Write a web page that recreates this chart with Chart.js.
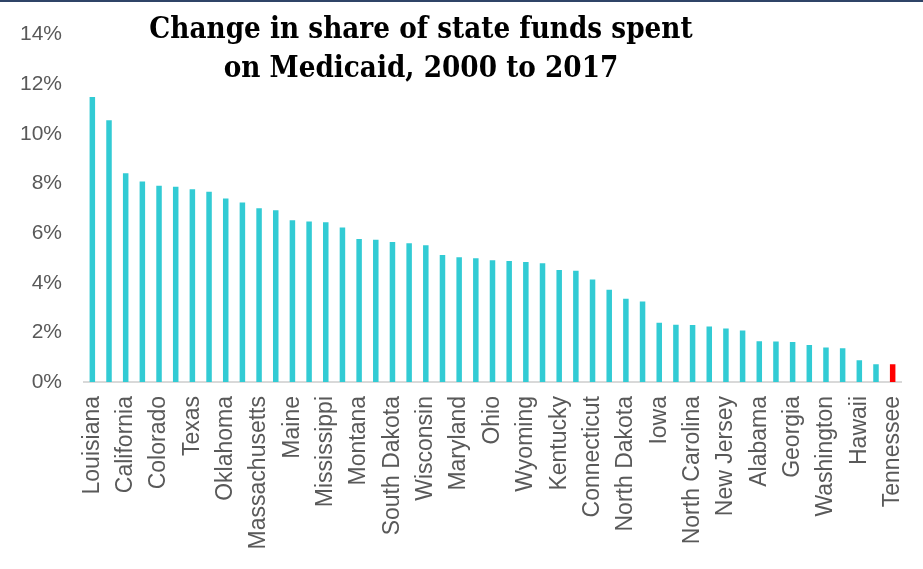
<!DOCTYPE html>
<html lang="en">
<head>
    <meta charset="UTF-8">
    <title>Change in share of state funds spent on Medicaid</title>
    <script src="https://cdn.jsdelivr.net/npm/chart.js"></script>
    <style>
        body {
            margin: 0;
            background: #ffffff;
        }
        .wrap {
            position: relative;
            width: 923px;
            height: 569px;
            border-top: 2px solid #2f4467;
            box-sizing: border-box;
        }
        .chart-title {
            position: absolute;
            left: 0;
            width: 842px;
            top: 7px;
            text-align: center;
            font-family: "DejaVu Serif", "Liberation Serif", serif;
            font-weight: bold;
            font-size: 29px;
            line-height: 39px;
            color: #000000;
            transform-origin: 421px 0;
        }
        canvas {
            position: absolute;
            left: 0;
            top: -2px;
        }
    </style>
</head>
<body>
    <div class="wrap">
        <canvas id="bar_chart" width="923" height="569"></canvas>
        <div class="chart-title" id="title"><span id="title_line">Change in share of state funds spent</span><br>on Medicaid, 2000 to 2017</div>
    </div>

    <script>
        // states sorted by change; only every other name is printed on the axis
        const states = [
            "Louisiana", "Pennsylvania", "California", "Missouri", "Colorado", "Nevada",
            "Texas", "Indiana", "Oklahoma", "New York", "Massachusetts", "Arkansas",
            "Maine", "Minnesota", "Mississippi", "Rhode Island", "Montana", "Kansas",
            "South Dakota", "West Virginia", "Wisconsin", "New Mexico", "Maryland", "Illinois",
            "Ohio", "Michigan", "Wyoming", "Florida", "Kentucky", "Delaware",
            "Connecticut", "Oregon", "North Dakota", "Arizona", "Iowa", "Virginia",
            "North Carolina", "New Hampshire", "New Jersey", "Utah", "Alabama", "Idaho",
            "Georgia", "South Carolina", "Washington", "Nebraska", "Hawaii", "Vermont",
            "Tennessee"
        ];
        const change = [
            11.49, 10.55, 8.41, 8.08, 7.91, 7.87,
            7.77, 7.67, 7.39, 7.23, 7.00, 6.92,
            6.52, 6.47, 6.44, 6.23, 5.76, 5.73,
            5.64, 5.59, 5.51, 5.12, 5.03, 4.99,
            4.91, 4.88, 4.84, 4.79, 4.51, 4.48,
            4.13, 3.72, 3.35, 3.24, 2.39, 2.31,
            2.30, 2.24, 2.16, 2.08, 1.64, 1.63,
            1.61, 1.49, 1.39, 1.36, 0.88, 0.72,
            0.72
        ];
        const highlight = "Tennessee";
        const yTicks = [0, 2, 4, 6, 8, 10, 12, 14];

        const barColors = states.map(s => s === highlight ? "#ff0000" : "#32cbd4");

        // squeeze the serif title to the width of the original heading
        const titleEl = document.getElementById("title");
        const lineW = document.getElementById("title_line").offsetWidth;
        titleEl.style.transform = "scaleX(" + (543 / lineW) + ")";

        new Chart("bar_chart", {
            type: "bar",
            data: {
                labels: states,
                datasets: [{
                    data: change,
                    backgroundColor: barColors,
                    barPercentage: 0.33,
                    categoryPercentage: 1.0
                }]
            },
            options: {
                responsive: false,
                animation: false,
                layout: {
                    padding: { top: 32, right: 22, left: 0, bottom: 0 }
                },
                plugins: {
                    legend: { display: false },
                    title: { display: false },
                    tooltip: { enabled: false }
                },
                scales: {
                    x: {
                        grid: { display: false, drawTicks: false },
                        border: { display: true, color: "#d9d9d9", width: 2 },
                        ticks: {
                            autoSkip: false,
                            maxRotation: 90,
                            minRotation: 90,
                            padding: 14,
                            color: "#595959",
                            font: { family: "'Liberation Sans', Arial, sans-serif", size: 23 },
                            callback: function (value, index) {
                                return index % 2 === 0 ? this.getLabelForValue(value) : "";
                            }
                        },
                        afterFit: function (scale) {
                            scale.height = 187;
                            scale.paddingLeft = 0;
                            scale.paddingRight = 0;
                        }
                    },
                    y: {
                        min: 0,
                        max: 14,
                        grid: { display: false, drawTicks: false },
                        border: { display: false },
                        afterBuildTicks: function (scale) {
                            scale.ticks = yTicks.map(v => ({ value: v }));
                        },
                        ticks: {
                            padding: 22,
                            color: "#595959",
                            font: { family: "'Liberation Sans', Arial, sans-serif", size: 21 },
                            callback: value => value + "%"
                        },
                        afterFit: function (scale) {
                            scale.width = 84;
                        }
                    }
                }
            }
        });
    </script>
</body>
</html>
